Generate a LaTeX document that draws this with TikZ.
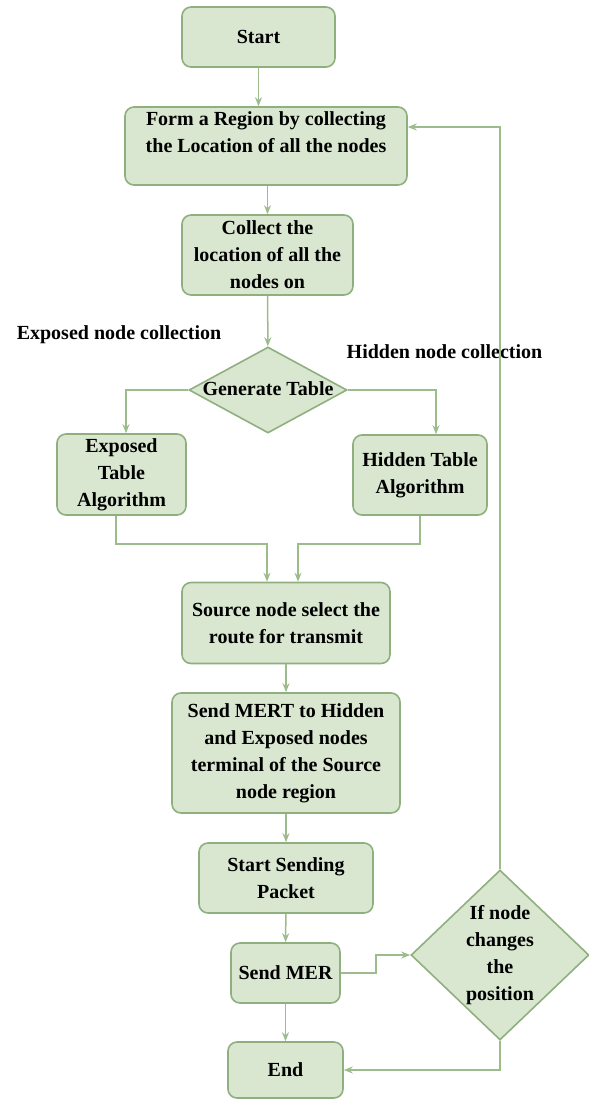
\documentclass[tikz,border=0pt]{standalone}
\usepackage{fontspec}
\setmainfont{Liberation Serif}
\usetikzlibrary{shapes.geometric,arrows.meta}
\definecolor{boxfill}{HTML}{D9E7D1}
\definecolor{boxline}{HTML}{8FB07E}
\definecolor{flowline}{HTML}{9DBC8B}
% text of a diamond, kept out of its size
\newcommand{\dtext}[1]{\makebox[0pt]{\smash{\raisebox{-5pt}{\begin{tabular}{@{}c@{}}#1\end{tabular}}}}}

\begin{document}
\begin{tikzpicture}[x=1pt, y=-1pt,
	every node/.style={font=\bfseries\fontsize{20}{27}\selectfont},
	procbox/.style={draw=boxline, fill=boxfill, line width=1.6pt, rounded corners=9pt, align=center, inner sep=2pt},
	decision/.style={diamond, draw=boxline, fill=boxfill, line width=1.6pt, inner sep=0pt},
	flow/.style={draw=flowline, line width=1.5pt, -{Stealth[length=9pt,width=7pt]}}]
	\useasboundingbox (0,0) rectangle (589,1101);

	\node[procbox, minimum width=153pt, minimum height=60pt] (start) at (258.5,37) {Start};
	\node[procbox, minimum width=282pt, minimum height=78pt, inner ysep=0pt] (form) at (266,146) {Form a Region by collecting\\the Location of all the nodes\\~};
	\node[procbox, minimum width=171pt, minimum height=80pt] (collect) at (267.5,255) {Collect the\\location of all the\\nodes on};
	\node[decision, minimum width=158pt, minimum height=86pt] (gen) at (268,390) {\dtext{Generate Table}};
	\node[procbox, minimum width=129pt, minimum height=81pt] (exposed) at (121.5,474.5) {Exposed\\Table\\Algorithm};
	\node[procbox, minimum width=134pt, minimum height=80pt] (hidden) at (420,475) {Hidden Table\\Algorithm};
	\node[procbox, minimum width=208pt, minimum height=81pt] (source) at (286,623) {Source node select the\\route for transmit};
	\node[procbox, minimum width=228pt, minimum height=120pt] (mert) at (286,753) {Send MERT to Hidden\\and Exposed nodes\\terminal of the Source\\node region};
	\node[procbox, minimum width=174pt, minimum height=70pt] (sending) at (286,878) {Start Sending\\Packet};
	\node[procbox, minimum width=109pt, minimum height=60pt, inner xsep=1pt] (mer) at (285.5,973) {Send MER};
	\node[procbox, minimum width=115pt, minimum height=56pt] (end) at (285.5,1070) {End};
	\node[decision, minimum width=178pt, minimum height=170pt] (change) at (500,955) {\dtext{If node\\changes\\the\\position}};

	\node (explabel) at (119,335) {Exposed node collection};
	\node (hidlabel) at (444.5,352) {Hidden node collection};

	\coordinate (mergeL) at (267,544);
	\coordinate (mergeR) at (298,544);

	\draw[flow] (start) -- (start |- form.north);
	\draw[flow] (form.south -| collect) -- (collect);
	\draw[flow] (collect) -- (gen);
	\draw[flow] (gen.west) -| ([xshift=4.5pt]exposed.north);
	\draw[flow] (gen.east) -| ([xshift=16pt]hidden.north);
	\draw[flow] ([xshift=-5.5pt]exposed.south) |- (mergeL) -- (mergeL |- source.north);
	\draw[flow] (hidden.south) |- (mergeR) -- (mergeR |- source.north);
	\draw[flow] (source) -- (mert);
	\draw[flow] (mert) -- (sending);
	\draw[flow] (sending) -- (mer);
	\draw[flow] (mer) -- (end);
	\draw[flow] (mer.east) -- ++(35,0) |- (change.west);
	\draw[flow] (change.north) |- ([yshift=19pt]form.east);
	\draw[flow] (change.south) |- (end.east);
\end{tikzpicture}
\end{document}
